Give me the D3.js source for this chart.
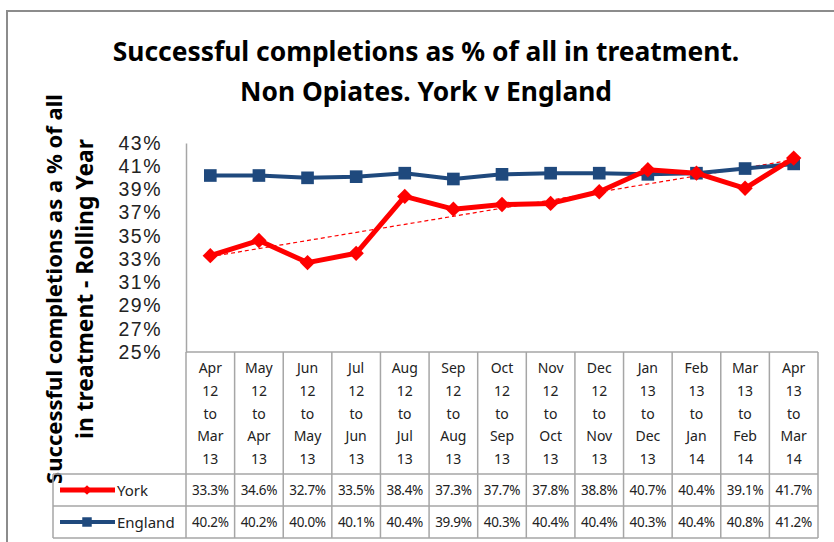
<!DOCTYPE html>
<html>
<head>
<meta charset="utf-8">
<script src="https://cdn.jsdelivr.net/npm/d3@7"></script>
<style>
  body { margin: 0; background: #fff; }
  svg { display: block; font-family: "Noto Sans", sans-serif; }
</style>
</head>
<body>
<svg id="chart" width="834" height="542"></svg>
<script>
// rolling year periods (one table column each)
const periods = ["Apr 12 to Mar 13", "May 12 to Apr 13", "Jun 12 to May 13", "Jul 12 to Jun 13",
  "Aug 12 to Jul 13", "Sep 12 to Aug 13", "Oct 12 to Sep 13", "Nov 12 to Oct 13",
  "Dec 12 to Nov 13", "Jan 13 to Dec 13", "Feb 13 to Jan 14", "Mar 13 to Feb 14", "Apr 13 to Mar 14"];
const york    = [33.3, 34.6, 32.7, 33.5, 38.4, 37.3, 37.7, 37.8, 38.8, 40.7, 40.4, 39.1, 41.7];
const england = [40.2, 40.2, 40.0, 40.1, 40.4, 39.9, 40.3, 40.4, 40.4, 40.3, 40.4, 40.8, 41.2];
const yTicks  = [25, 27, 29, 31, 33, 35, 37, 39, 41, 43];

const titleLines  = ["Successful completions as % of all in treatment.", "Non Opiates. York v England"];
const yTitleLines = ["Successful completions as a % of all", "in treatment - Rolling Year"];

const svg = d3.select("#chart");
const grid = "#a6a6a6";
const red = "#ff0000", blue = "#1f497d";

// plot area + table geometry
const pLeft = 186, pRight = 818, pTop = 143, pBottom = 352;
const headBottom = 474, rowH = 32, legendLeft = 53;

const x = d3.scaleBand().domain(periods).range([pLeft, pRight]);
const y = d3.scaleLinear().domain([25, 43]).range([pBottom, pTop]);

// outer frame
svg.append("rect").attr("x", 7).attr("y", 11).attr("width", 900).attr("height", 600)
  .attr("fill", "none").attr("stroke", "#8c8c8c").attr("stroke-width", 2);

// fit a text element to a target width by adjusting font size
function fit(sel, w) {
  const n = sel.node();
  const fs = parseFloat(sel.attr("font-size"));
  sel.attr("font-size", fs * w / n.getComputedTextLength());
}

// title
titleLines.forEach((t, i) => {
  const tt = svg.append("text").attr("x", 426).attr("y", 61 + i * 40)
    .attr("text-anchor", "middle").attr("font-size", 24).attr("font-weight", "bold")
    .attr("fill", "#000").text(t);
  fit(tt, i === 0 ? 627 : 372);
});

// y axis title (rotated)
yTitleLines.forEach((t, i) => {
  const tt = svg.append("text")
    .attr("transform", `translate(${62 + i * 31},289) rotate(-90)`)
    .attr("text-anchor", "middle").attr("font-size", 20).attr("font-weight", "bold")
    .text(t);
  fit(tt, i === 0 ? 390 : 300);
});

// y axis
const yAxis = svg.append("g").attr("transform", `translate(${pLeft},0)`)
  .call(d3.axisLeft(y).tickValues(yTicks).tickSize(0).tickPadding(24).tickFormat(d => d + "%"));
yAxis.select(".domain").attr("stroke", grid).attr("stroke-width", 1.5);
yAxis.selectAll("text").attr("font-size", 19.5).attr("fill", "#222")
  .attr("letter-spacing", 1.5).attr("font-family", "Liberation Sans, sans-serif");

// data table grid
const tbl = svg.append("g").attr("stroke", grid).attr("stroke-width", 1.5).attr("fill", "none");
tbl.append("line").attr("x1", pLeft).attr("x2", pRight).attr("y1", pBottom).attr("y2", pBottom);
[headBottom, headBottom + rowH, headBottom + 2 * rowH].forEach(yy =>
  tbl.append("line").attr("x1", legendLeft).attr("x2", pRight).attr("y1", yy).attr("y2", yy));
tbl.append("line").attr("x1", legendLeft).attr("x2", legendLeft)
  .attr("y1", headBottom).attr("y2", headBottom + 2 * rowH);
periods.concat([null]).forEach(p => {
  const xx = p ? x(p) : pRight;
  tbl.append("line").attr("x1", xx).attr("x2", xx).attr("y1", pBottom).attr("y2", headBottom + 2 * rowH);
});

// header labels
periods.forEach(p => {
  p.split(" ").forEach((w, j) => {
    svg.append("text").attr("x", x(p) + x.bandwidth() / 2).attr("y", 373 + j * 22.8)
      .attr("text-anchor", "middle").attr("font-size", 14).attr("fill", "#222").text(w);
  });
});

// table values
const fmt = d => d.toFixed(1) + "%";
[york, england].forEach((vals, r) => {
  vals.forEach((v, i) => {
    svg.append("text").attr("x", x(periods[i]) + x.bandwidth() / 2)
      .attr("y", headBottom + r * rowH + 21)
      .attr("text-anchor", "middle").attr("font-size", 13.5).attr("fill", "#222")
      .attr("letter-spacing", -0.3).text(fmt(v));
  });
});

const cx = p => x(p) + x.bandwidth() / 2;
const diamond = d3.symbol().type(d3.symbolDiamond2).size(150);
const square = d3.symbol().type(d3.symbolSquare).size(160);

// legend inside table
const legend = [
  { name: "York", color: red, lw: 5, ms: d3.symbol().type(d3.symbolDiamond2).size(60) },
  { name: "England", color: blue, lw: 4, ms: d3.symbol().type(d3.symbolSquare).size(90) }
];
legend.forEach((l, r) => {
  const yy = headBottom + r * rowH + 16;
  svg.append("line").attr("x1", 60).attr("x2", 115).attr("y1", yy).attr("y2", yy)
    .attr("stroke", l.color).attr("stroke-width", l.lw);
  svg.append("path").attr("d", l.ms()).attr("transform", `translate(87,${yy})`).attr("fill", l.color);
  svg.append("text").attr("x", 117).attr("y", yy + 5.5).attr("font-size", 15).attr("fill", "#222").text(l.name);
});

// linear trendline for York
const n = york.length;
const mx = d3.mean(d3.range(n)), my = d3.mean(york);
const slope = d3.sum(york, (v, i) => (i - mx) * (v - my)) / d3.sum(d3.range(n), i => (i - mx) * (i - mx));
const trend = [0, n - 1].map(i => ({ p: periods[i], v: my + slope * (i - mx) }));
svg.append("path").datum(trend)
  .attr("d", d3.line().x(d => cx(d.p)).y(d => y(d.v)))
  .attr("fill", "none").attr("stroke", red).attr("stroke-width", 1.2).attr("stroke-dasharray", "4,3");

// series lines
const line = d3.line().x((d, i) => cx(periods[i])).y(d => y(d));
svg.append("path").datum(england).attr("d", line)
  .attr("fill", "none").attr("stroke", blue).attr("stroke-width", 4).attr("stroke-linejoin", "round");
svg.append("g").selectAll("path").data(england).join("path")
  .attr("d", square).attr("fill", blue)
  .attr("transform", (d, i) => `translate(${cx(periods[i])},${y(d)})`);

svg.append("path").datum(york).attr("d", line)
  .attr("fill", "none").attr("stroke", red).attr("stroke-width", 5).attr("stroke-linejoin", "round");
svg.append("g").selectAll("path").data(york).join("path")
  .attr("d", diamond).attr("fill", red)
  .attr("transform", (d, i) => `translate(${cx(periods[i])},${y(d)})`);
</script>
</body>
</html>
